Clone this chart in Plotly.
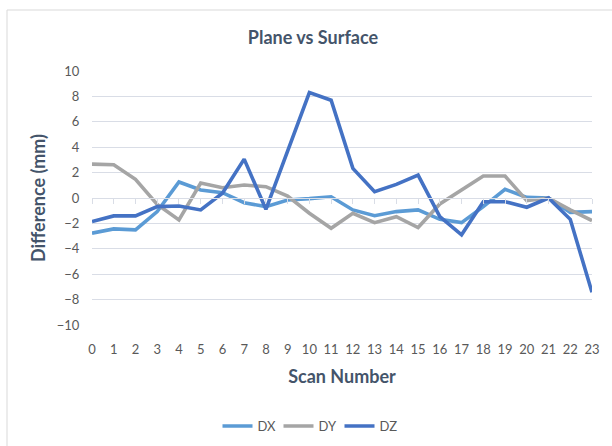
import plotly.graph_objects as go

scans = list(range(24))
dx = [-2.77, -2.43, -2.51, -1.07, 1.26, 0.63, 0.42, -0.37, -0.68, -0.16, -0.05, 0.1,
      -0.94, -1.39, -1.07, -0.94, -1.68, -1.94, -0.68, 0.68, 0.05, 0.0, -1.13, -1.07]
dy = [2.67, 2.62, 1.47, -0.5, -1.73, 1.18, 0.81, 1.02, 0.89, 0.16, -1.2, -2.38,
      -1.2, -1.94, -1.47, -2.33, -0.47, 0.63, 1.73, 1.73, -0.21, 0.0, -0.94, -1.78]
dz = [-1.86, -1.41, -1.41, -0.68, -0.63, -0.94, 0.37, 3.06, -0.89, 3.64, 8.3, 7.7,
      2.33, 0.5, 1.07, 1.8, -1.47, -2.9, -0.29, -0.29, -0.73, 0.0, -1.68, -7.43]
y_ticks = list(range(-10, 11, 2))

FONT = "Lato"
TITLE_COLOR = "#44546A"
TEXT_COLOR = "#595959"
GRID = "#D9DDE6"

W, H = 612, 446
L, R, T, B = 92, 20, 71, 121

fig = go.Figure()
for name, vals, color in [("DX", dx, "#5B9BD5"), ("DY", dy, "#A5A5A5"), ("DZ", dz, "#4472C4")]:
    fig.add_trace(go.Scatter(x=scans, y=vals, name=name, mode="lines",
                             line=dict(color=color, width=3.6)))

# hidden trace so the category axis drawn through zero gets rendered
fig.add_trace(go.Scatter(x=scans, y=[0] * len(scans), xaxis="x2", mode="lines",
                         line=dict(width=0), opacity=0, showlegend=False, hoverinfo="skip"))

pw, ph = W - L - R, H - T - B
def px_x(p):
    return (p - L) / pw
def px_y(p):
    return (H - B - p) / ph

fig.update_layout(
    width=W, height=H,
    margin=dict(l=L, r=R, t=T, b=B),
    paper_bgcolor="white", plot_bgcolor="white",
    title=dict(text="<b>Plane vs Surface</b>", x=313 / W, xanchor="center",
               y=1 - 38 / H, yanchor="middle",
               font=dict(family=FONT, size=18, color=TITLE_COLOR)),
    xaxis=dict(range=[0, 23], tickmode="array", tickvals=scans, ticktext=[str(s) for s in scans],
               showgrid=False, zeroline=False, showline=False, ticks="",
               ticklabelstandoff=15, automargin=False,
               tickfont=dict(family=FONT, size=13, color=TEXT_COLOR),
               title=dict(text="<b>Scan Number</b>", standoff=14,
                          font=dict(family=FONT, size=18, color=TITLE_COLOR))),
    xaxis2=dict(range=[0, 23], overlaying="x", anchor="free", position=0.5,
                tickmode="array", tickvals=scans, showticklabels=False,
                ticks="outside", ticklen=5, tickcolor=GRID, tickwidth=1,
                showline=True, linecolor=GRID, linewidth=1, showgrid=False, zeroline=False),
    yaxis=dict(range=[-10, 10], tickmode="array", tickvals=y_ticks,
               showgrid=True, gridcolor=GRID, gridwidth=1, zeroline=False, showline=False,
               ticks="outside", ticklen=9, tickcolor="rgba(0,0,0,0)", automargin=False,
               tickfont=dict(family=FONT, size=13, color=TEXT_COLOR),
               title=dict(text="<b>Difference (mm)</b>", standoff=6,
                          font=dict(family=FONT, size=18, color=TITLE_COLOR))),
    legend=dict(orientation="h", xref="container", yref="container",
                x=309 / W, xanchor="center", y=1 - 426 / H, yanchor="middle",
                font=dict(family=FONT, size=13, color=TEXT_COLOR), itemwidth=30,
                entrywidth=16, entrywidthmode="pixels",
                traceorder="normal"),
    shapes=[dict(type="rect", xref="paper", yref="paper",
                 x0=px_x(7), x1=px_x(640), y0=px_y(480), y1=px_y(10),
                 line=dict(color="#D9D9D9", width=1), layer="below")],
)

fig.write_html("out.html")
